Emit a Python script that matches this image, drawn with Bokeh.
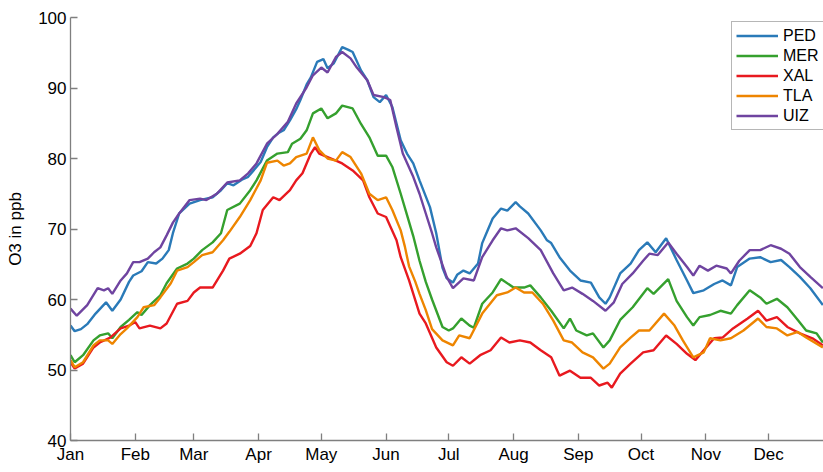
from bokeh.plotting import figure
from bokeh.models import Range1d, FixedTicker
from bokeh.embed import file_html
from bokeh.resources import INLINE

month_days = [1, 32, 60, 91, 121, 152, 182, 213, 244, 274, 305, 335]
month_labels = ["Jan", "Feb", "Mar", "Apr", "May", "Jun", "Jul", "Aug", "Sep", "Oct", "Nov", "Dec"]
y_ticks = [40, 50, 60, 70, 80, 90, 100]

ped_day = [1,3,6,9,13,18,21,25,29,31,35,38,42,45,48,50,53,58,63,69,73,76,79,83,86,88,92,95,98,101,
           103,106,109,111,114,116,119,122,124,127,131,134,136,140,143,146,149,152,155,159,162,165,168,173,176,
           179,181,184,186,189,192,196,198,200,203,207,210,214,216,220,226,229,231,235,240,245,250,254,257,259,
           264,269,273,277,281,286,291,296,299,304,309,313,317,320,326,331,336,341,345,350,355,361]
ped_val = [56.3,55.5,55.8,56.5,58.0,59.6,58.4,60.0,62.5,63.4,64.0,65.3,65.1,65.8,67.0,69.4,72.2,73.6,74.1,74.5,
           75.5,76.5,76.2,77.0,77.4,78.1,79.5,81.6,83.0,83.7,84.0,85.4,87.0,88.3,90.5,91.5,93.7,94.1,92.8,93.5,
           95.8,95.4,95.1,92.5,91.1,88.7,88.0,89.0,87.3,82.6,80.7,79.3,76.9,73.1,69.4,64.5,63.0,62.4,63.5,64.1,
           63.7,65.1,68.0,69.4,71.5,72.9,72.6,73.8,73.2,72.2,69.8,68.4,68.0,66.0,64.1,62.7,62.4,60.3,59.4,60.3,
           63.7,65.1,67.0,68.1,66.7,68.7,65.6,62.7,60.9,61.3,62.2,62.7,62.0,64.6,65.8,66.0,65.3,65.6,64.6,63.2,
           61.6,59.2]

mer_day = [1,3,7,12,15,19,21,25,29,33,35,39,44,47,52,57,60,64,69,73,76,82,87,90,95,100,105,107,111,114,
           117,121,124,128,131,136,140,144,148,152,155,159,162,165,168,171,174,179,182,184,188,192,194,198,203,
           207,213,218,221,226,231,237,240,243,248,251,256,259,264,270,277,280,287,291,296,299,302,307,312,317,
           320,326,331,334,339,344,349,353,358,361]
mer_val = [52.1,51.1,52.1,54.2,54.9,55.2,54.5,56.1,57.1,58.2,57.8,59.2,60.6,62.3,64.4,65.1,65.8,67.0,68.1,69.4,
           72.7,73.6,75.5,76.9,79.7,80.7,80.9,82.1,82.8,84.0,86.4,87.1,85.7,86.4,87.5,87.1,84.9,83.0,80.4,80.4,
           78.8,75.0,72.0,69.0,65.5,62.5,60.0,56.1,55.6,55.9,57.3,56.3,56.0,59.4,61.0,62.9,61.7,61.7,62.0,60.3,
           58.4,55.9,57.3,55.6,54.9,55.2,53.2,54.2,57.1,58.9,61.6,60.8,62.9,59.8,57.5,56.3,57.5,57.8,58.4,58.0,
           59.2,61.3,60.3,59.4,60.1,58.9,57.1,55.6,55.2,53.9]

xal_day = [1,3,7,12,15,20,25,29,32,34,39,44,47,52,57,60,63,69,74,77,82,87,90,93,98,101,106,109,112,116,
           118,120,124,128,131,136,141,144,148,152,157,159,163,168,171,176,181,184,188,192,197,202,207,211,216,
           221,226,231,235,240,245,250,254,258,260,264,269,275,280,286,291,296,300,304,309,313,318,325,330,334,
           339,344,350,356,361]
xal_val = [51.1,50.2,50.9,53.2,53.9,54.6,55.9,56.3,56.8,55.9,56.3,55.9,56.6,59.4,59.8,61.0,61.7,61.7,64.1,65.8,
           66.5,67.6,69.4,72.7,74.5,74.1,75.5,76.9,77.9,80.7,81.6,80.7,80.2,79.7,79.3,78.3,76.9,74.5,72.2,71.7,
           68.4,66.0,62.7,58.0,56.6,53.2,51.1,50.6,51.8,50.9,52.1,52.8,54.6,53.9,54.2,53.9,52.8,51.8,49.2,49.9,
           48.9,48.9,47.8,48.2,47.5,49.5,50.9,52.5,52.8,54.9,53.7,52.3,51.4,52.8,54.5,54.6,55.9,57.3,58.4,57.0,
           57.5,56.1,55.2,54.5,53.5]

tla_day = [1,3,7,12,15,19,21,25,28,33,36,41,44,49,52,57,60,64,69,74,77,82,87,92,95,100,103,106,109,114,
           117,120,124,128,131,135,140,144,148,152,155,159,161,163,166,168,171,174,179,184,187,192,198,205,210,
           214,218,222,227,232,237,241,246,251,256,259,264,269,273,278,285,290,294,299,304,307,312,317,323,330,
           334,339,344,349,353,361]
tla_val = [51.4,50.4,51.1,53.5,54.2,54.2,53.7,55.1,55.9,57.5,58.9,59.2,60.3,62.3,64.1,64.6,65.3,66.3,66.7,68.4,
           69.6,71.7,74.1,76.9,79.4,79.7,79.0,79.3,80.2,80.7,83.0,81.2,80.0,79.7,80.9,80.2,77.9,75.0,74.1,74.5,
           72.7,69.8,67.5,64.7,62.5,60.8,58.5,55.8,54.2,53.5,54.9,54.5,58.0,60.6,61.0,61.7,61.0,61.0,59.4,57.0,
           54.2,53.9,52.5,51.8,50.2,50.9,53.2,54.6,55.6,55.6,58.0,56.3,54.2,51.8,52.5,54.5,54.2,54.5,55.6,57.3,
           56.1,55.9,54.9,55.4,54.6,53.2]

uiz_day = [1,4,9,14,17,19,21,25,28,31,34,38,41,44,47,50,53,58,63,66,71,76,82,86,90,95,100,105,109,114,
           117,121,124,128,131,135,138,143,146,151,154,157,160,165,168,171,174,176,181,184,189,194,198,203,207,
           210,214,220,226,232,237,241,246,251,257,261,265,270,275,278,282,287,291,296,299,302,306,310,315,317,
           321,326,331,336,341,345,350,355,361]
uiz_val = [58.7,57.7,59.2,61.6,61.3,61.6,60.8,62.7,63.7,65.3,65.3,65.8,66.7,67.4,69.1,70.9,72.2,74.1,74.3,74.1,
           75.0,76.6,76.9,77.9,79.3,82.1,83.5,85.2,87.8,90.1,91.8,92.9,92.2,94.4,95.1,94.2,92.9,91.1,89.0,88.7,
           88.3,84.4,80.7,77.4,75.0,72.2,69.4,67.4,63.2,61.6,63.0,62.7,66.0,68.4,70.1,69.8,70.1,68.7,67.0,63.7,
           61.3,61.7,60.8,59.8,58.4,59.6,62.2,63.7,65.5,66.5,66.3,68.1,66.5,64.6,63.4,64.8,64.1,64.8,64.4,63.7,
           65.5,67.0,67.0,67.7,67.2,66.5,64.6,63.2,61.6]

series = [
    ("PED", ped_day, ped_val, "#2a7ab8"),
    ("MER", mer_day, mer_val, "#35a02e"),
    ("XAL", xal_day, xal_val, "#e8191f"),
    ("TLA", tla_day, tla_val, "#ee8500"),
    ("UIZ", uiz_day, uiz_val, "#6f44a0"),
]

FONT = "Liberation Sans"
p = figure(width=823, height=472, output_backend="svg", toolbar_location=None,
           x_range=Range1d(1, 361.3), y_range=Range1d(40, 100),
           min_border_left=70, min_border_right=0, min_border_top=17, min_border_bottom=32)
p.outline_line_color = None
p.xgrid.visible = False
p.ygrid.visible = False
p.background_fill_color = "white"
p.border_fill_color = "white"

for name, d, v, c in series:
    p.line(d, v, line_color=c, line_width=2.4, legend_label=name)

for ax in (p.xaxis[0], p.yaxis[0]):
    ax.axis_line_color = "#7f7f7f"
    ax.axis_line_width = 1.3
    ax.major_tick_line_color = "#7f7f7f"
    ax.major_tick_line_width = 1.3
    ax.major_tick_in = 7
    ax.major_tick_out = 0
    ax.minor_tick_line_color = None
    ax.major_label_text_font = FONT
    ax.major_label_text_font_size = "17px"
    ax.major_label_text_color = "black"
    ax.major_label_standoff = 4

p.xaxis.ticker = FixedTicker(ticks=month_days)
p.xaxis.major_label_overrides = {d: l for d, l in zip(month_days, month_labels)}
p.yaxis.ticker = FixedTicker(ticks=y_ticks)
p.yaxis.axis_label = "O3 in ppb"
p.yaxis.axis_label_text_font = FONT
p.yaxis.axis_label_text_font_size = "17px"
p.yaxis.axis_label_text_font_style = "normal"
p.yaxis.axis_label_text_color = "black"
p.yaxis.axis_label_standoff = 10

lg = p.legend[0]
lg.location = (661, 310)
lg.padding = 4
lg.spacing = 1
lg.margin = 0
lg.label_height = 19
lg.glyph_height = 19
lg.glyph_width = 42
lg.label_standoff = 5
lg.label_text_font = FONT
lg.label_text_font_size = "16px"
lg.label_text_color = "black"
lg.border_line_color = "#6e6e6e"
lg.border_line_width = 1
lg.background_fill_color = "white"
lg.background_fill_alpha = 1

open("out.html", "w").write(file_html(p, INLINE))
